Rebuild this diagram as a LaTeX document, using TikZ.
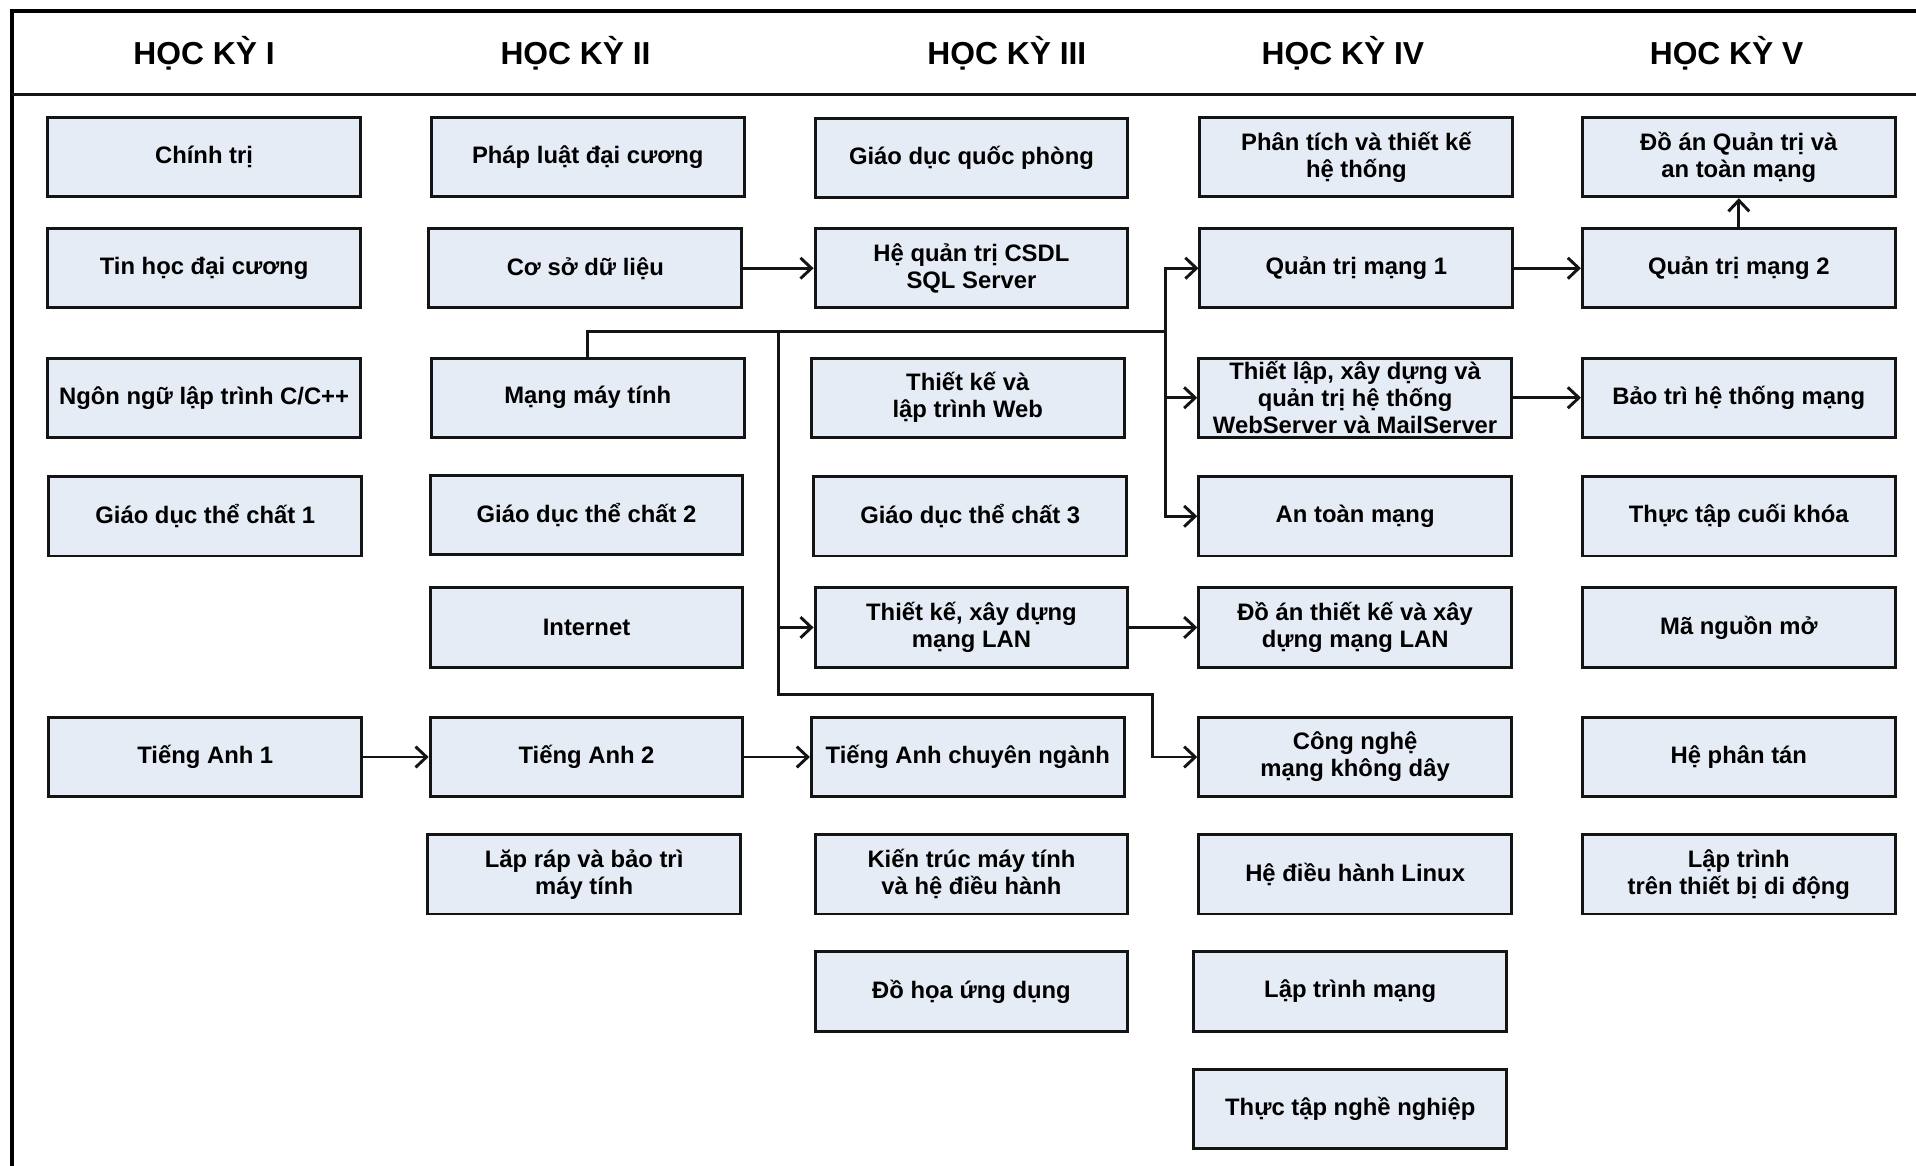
\documentclass[tikz,border=0pt]{standalone}
\usepackage{fontspec}
\setmainfont{Liberation Sans}
\usetikzlibrary{arrows.meta}
\definecolor{boxfill}{RGB}{230,236,246}
\definecolor{edgecol}{RGB}{20,20,20}
\begin{document}
\begin{tikzpicture}[x=1pt,y=-1pt,
  box/.style={draw=edgecol, line width=2.4pt, fill=boxfill, minimum width=256pt, minimum height=65pt,
    inner sep=0pt, align=center, font=\fontsize{19.5}{22}\selectfont\bfseries, text=black},
  hdr/.style={font=\fontsize{26}{29}\selectfont\bfseries, inner sep=0pt, anchor=base, text=black},
  plain/.style={draw=edgecol, line width=2.4pt},
  conn/.style={plain, -{Straight Barb[length=9pt,width=17pt]}}]
\useasboundingbox (0,0) rectangle (1568,954);
% frame
\draw[line width=3.6pt, draw=black] (10,970) -- (10,9) -- (1580,9);
\draw[line width=2.4pt, draw=edgecol] (10,77) -- (1580,77);
% headers
\node[hdr] (h1) at (167,52.5) {HỌC KỲ I};
\node[hdr] (h2) at (471,52.5) {HỌC KỲ II};
\node[hdr] (h3) at (824,52.5) {HỌC KỲ III};
\node[hdr] (h4) at (1099,52.5) {HỌC KỲ IV};
\node[hdr] (h5) at (1413,52.5) {HỌC KỲ V};
% column 1
\node[box] (chinhtri) at (167,128.5) {Chính trị};
\node[box] (tinhoc) at (167,219.5) {Tin học đại cương};
\node[box] (ngonngu) at (167,325.5) {Ngôn ngữ lập trình C/C++};
\node[box] (gdtc1) at (168,422.5) {Giáo dục thể chất 1};
\node[box] (ta1) at (168,619.5) {Tiếng Anh 1};
% column 2
\node[box] (phapluat) at (481,128.5) {Pháp luật đại cương};
\node[box] (csdl) at (479,219.5) {Cơ sở dữ liệu};
\node[box] (mmt) at (481,325.5) {Mạng máy tính};
\node[box] (gdtc2) at (480,421.5) {Giáo dục thể chất 2};
\node[box] (internet) at (480,513.5) {Internet};
\node[box] (ta2) at (480,619.5) {Tiếng Anh 2};
\node[box] (laprap) at (478,715.5) {Lăp ráp và bảo trì\\máy tính};
% column 3
\node[box] (gdqp) at (795,129.5) {Giáo dục quốc phòng};
\node[box] (hqt) at (795,219.5) {Hệ quản trị CSDL\\SQL Server};
\node[box] (tkweb) at (792,325.5) {Thiết kế và\\lập trình Web};
\node[box] (gdtc3) at (794,422.5) {Giáo dục thể chất 3};
\node[box] (lan) at (795,513.5) {Thiết kế, xây dựng\\mạng LAN};
\node[box] (tacn) at (792,619.5) {Tiếng Anh chuyên ngành};
\node[box] (kientruc) at (795,715.5) {Kiến trúc máy tính\\và hệ điều hành};
\node[box] (dohoa) at (795,811.5) {Đồ họa ứng dụng};
% column 4
\node[box] (ptk) at (1110,128.5) {Phân tích và thiết kế\\hệ thống};
\node[box] (qtm1) at (1110,219.5) {Quản trị mạng 1};
\node[box] (thietlap) at (1109,325.5) {Thiết lập, xây dựng và\\quản trị hệ thống\\WebServer và MailServer};
\node[box] (atm) at (1109,422.5) {An toàn mạng};
\node[box] (dalan) at (1109,513.5) {Đồ án thiết kế và xây\\dựng mạng LAN};
\node[box] (cnkd) at (1109,619.5) {Công nghệ\\mạng không dây};
\node[box] (linux) at (1109,715.5) {Hệ điều hành Linux};
\node[box] (ltm) at (1105,811.5) {Lập trình mạng};
\node[box] (ttnn) at (1105,907.5) {Thực tập nghề nghiệp};
% column 5
\node[box] (daqt) at (1423,128.5) {Đồ án Quản trị và\\an toàn mạng};
\node[box] (qtm2) at (1423,219.5) {Quản trị mạng 2};
\node[box] (baotri) at (1423,325.5) {Bảo trì hệ thống mạng};
\node[box] (ttck) at (1423,422.5) {Thực tập cuối khóa};
\node[box] (mnm) at (1423,513.5) {Mã nguồn mở};
\node[box] (hpt) at (1423,619.5) {Hệ phân tán};
\node[box] (ltdd) at (1423,715.5) {Lập trình\\trên thiết bị di động};
% junction coordinates
\coordinate (jR) at (953.5,271.5);
\coordinate (jL) at (637,271.5);
\coordinate (jLb) at (637,568);
\coordinate (jC) at (943.5,568);
% connectors
\draw[plain] (mmt.north) |- (jR);
\draw[conn] (jR) |- (qtm1.west);
\draw[conn] (jR) |- (atm.west);
\draw[conn] (jR |- thietlap.west) -- (thietlap.west);
\draw[conn] (jL) -- (jLb) -- (jC) |- (cnkd.west);
\draw[conn] (jL |- lan.west) -- (lan.west);
\draw[conn] (csdl.east) -- (hqt.west);
\draw[conn] (qtm1.east) -- (qtm2.west);
\draw[conn] (thietlap.east) -- (baotri.west);
\draw[conn] (lan.east) -- (dalan.west);
\draw[conn] (ta1.east) -- (ta2.west);
\draw[conn] (ta2.east) -- (tacn.west);
\draw[conn] (qtm2.north) -- (daqt.south);
\end{tikzpicture}
\end{document}
